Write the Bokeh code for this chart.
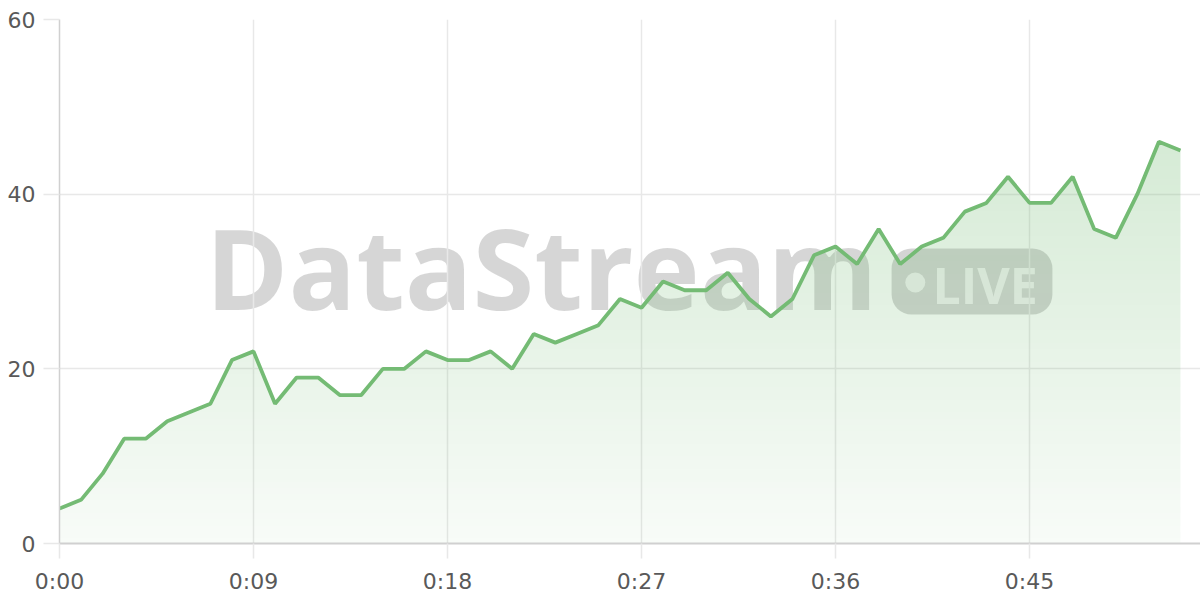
import numpy as np
from bokeh.plotting import figure
from bokeh.models import Range1d, FixedTicker
from bokeh.core.properties import value
from bokeh.embed import file_html
from bokeh.resources import INLINE

# ---- data ----
seconds = list(range(53))
viewers = [4, 5, 8, 12, 12, 14, 15, 16, 21, 22,
           16, 19, 19, 17, 17, 20, 20, 22, 21, 21,
           22, 20, 24, 23, 24, 25, 28, 27, 30, 29,
           29, 31, 28, 26, 28, 33, 34, 32, 36, 32,
           34, 35, 38, 39, 42, 39, 39, 42, 36, 35,
           40, 46, 45]
x_ticks = [0, 9, 18, 27, 36, 45]
x_tick_labels = ["0:00", "0:09", "0:18", "0:27", "0:36", "0:45"]
y_ticks = [0, 20, 40, 60]
watermark_text = "DataStream"
badge_text = "LIVE"

# ---- style ----
LINE = "#74bb74"
GRID = "#e8e8e8"
AXIS = "#d0d0d0"
LABEL = "#595959"
FONT = "DejaVu Sans"

W, H = 1200, 600
BL, BR, BT, BB = 59, 0, 19, 57
frame_w = W - BL - BR
frame_h = H - BT - BB
x_max = 52.93
y_max = 60

p = figure(width=W, height=H, output_backend="svg", toolbar_location=None,
           x_range=Range1d(0, x_max), y_range=Range1d(0, y_max),
           min_border_left=BL, min_border_right=BR, min_border_top=BT, min_border_bottom=BB)
p.outline_line_color = None
p.background_fill_color = "white"
p.border_fill_color = "white"

# ---- watermark (behind grid and area) ----
p.text(x=[22.36], y=[31.7], text=[watermark_text], text_font=value("Open Sans"),
       text_font_style="bold", text_font_size="112px", text_color="black", text_alpha=0.16,
       text_align="center", text_baseline="alphabetic", level="image")
p.quad(left=[38.6], right=[46.06], bottom=[26.22], top=[33.78], border_radius=20,
       fill_color="black", fill_alpha=0.17, line_color=None, level="image")
p.scatter(x=[39.7], y=[29.89], size=20, marker="circle", fill_color="white", fill_alpha=0.7,
          line_color=None, level="image")
p.text(x=[40.5], y=[29.6], text=[badge_text], text_font=value("Open Sans"),
       text_font_style="bold", text_font_size="50px", text_color="white", text_alpha=0.7,
       text_align="left", text_baseline="alphabetic", level="image")

# ---- gradient area under the line (raster built from the series) ----
x_end = seconds[-1]
nx = int(round(x_end * frame_w / x_max))
ny = frame_h
xc = (np.arange(nx) + 0.5) / nx * x_end
row_h = y_max / ny
y_lo = np.arange(ny) * row_h
v = np.interp(xc, seconds, viewers)
cover = np.clip((v[None, :] - y_lo[:, None]) / row_h, 0, 1)
vmax = max(viewers)
grad = 0.05 + 0.25 * np.clip((y_lo + row_h / 2) / vmax, 0, 1)
alpha = cover * grad[:, None]
rgba = np.zeros((ny, nx, 4), dtype=np.uint8)
rgba[..., 0] = 116
rgba[..., 1] = 187
rgba[..., 2] = 116
rgba[..., 3] = np.round(alpha * 255).astype(np.uint8)
img = rgba.view(np.uint32).reshape(ny, nx)
p.image_rgba(image=[img], x=0, y=0, dw=x_end, dh=y_max)

# ---- line ----
p.line(seconds, viewers, line_color=LINE, line_width=3.8)

# ---- grid ----
p.xgrid.ticker = FixedTicker(ticks=x_ticks)
p.ygrid.ticker = FixedTicker(ticks=y_ticks)
p.xgrid.grid_line_color = GRID
p.ygrid.grid_line_color = GRID
p.xgrid.grid_line_width = 1.5
p.ygrid.grid_line_width = 1.5

# ---- axes ----
p.xaxis.ticker = FixedTicker(ticks=x_ticks)
p.xaxis.major_label_overrides = dict(zip(x_ticks, x_tick_labels))
p.yaxis.ticker = FixedTicker(ticks=y_ticks)
for ax, lw, tout, so in ((p.xaxis, 2, 15, 10), (p.yaxis, 1.5, 16, 8)):
    ax.axis_line_color = AXIS
    ax.axis_line_width = lw
    ax.major_tick_line_color = GRID
    ax.major_tick_line_width = 1.5
    ax.major_tick_out = tout
    ax.major_tick_in = 0
    ax.minor_tick_line_color = None
    ax.major_label_text_font = FONT
    ax.major_label_text_font_size = "22px"
    ax.major_label_text_color = LABEL
    ax.major_label_standoff = so

open("out.html", "w").write(file_html(p, INLINE))
